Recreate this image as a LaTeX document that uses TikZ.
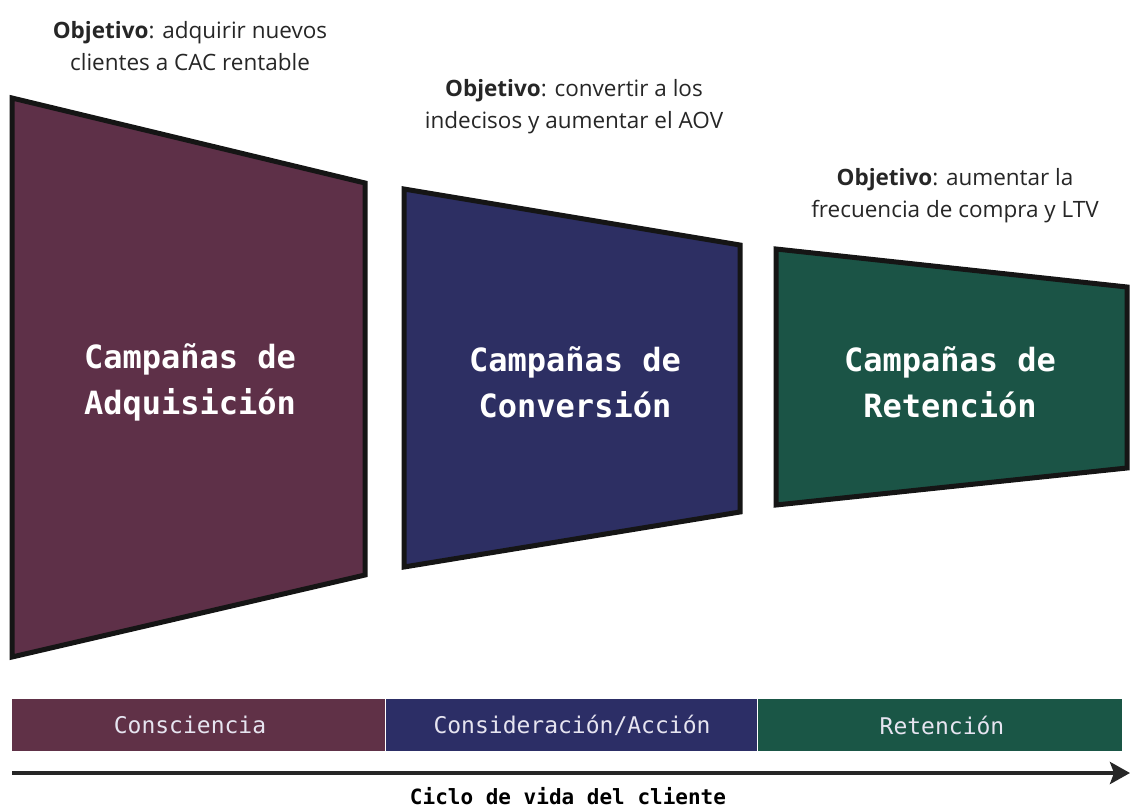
\documentclass[tikz,border=0pt]{standalone}
\usepackage{fontspec}
\setmainfont{Open Sans}
\newfontfamily\monofont{DejaVu Sans Mono}
\usetikzlibrary{arrows.meta}
\definecolor{cmaroon}{HTML}{5E3048}
\definecolor{cnavy}{HTML}{2D2F63}
\definecolor{cgreen}{HTML}{1B5446}
\definecolor{bmaroon}{HTML}{603147}
\definecolor{bnavy}{HTML}{2C2E66}
\definecolor{bgreen}{HTML}{1A5646}
\definecolor{ctext}{HTML}{262626}
\definecolor{barText}{HTML}{E6E4F0}
\definecolor{outline}{HTML}{151515}
\tikzset{
  trap/.style={draw=outline, line width=5pt, line join=miter},
  goal/.style={align=center, text=ctext, font=\fontsize{22.5}{32}\selectfont, inner sep=0pt},
  title/.style={align=center, text=white, font=\monofont\bfseries\fontsize{32}{46}\selectfont, inner sep=0pt},
  barlabel/.style={text=barText, font=\monofont\fontsize{23}{26}\selectfont, inner sep=0pt},
}
\begin{document}
\begin{tikzpicture}[x=1pt,y=-1pt]
\useasboundingbox (0,0) rectangle (1134,810);
% trapezoids
\draw[trap, fill=cmaroon] (12,98) -- (365,183) -- (365,575) -- (12,657) -- cycle;
\draw[trap, fill=cnavy] (404,189) -- (740,245) -- (740,512) -- (404,567) -- cycle;
\draw[trap, fill=cgreen] (776,249) -- (1127,287) -- (1127,468) -- (776,505) -- cycle;
% titles
\node[title] (t1) at (190,382) {Campañas de\\Adquisición};
\node[title] (t2) at (575,382) {Campañas de\\Conversión};
\node[title] (t3) at (950,382) {Campañas de\\Retención};
% goals
\node[goal] (g1) at (190,46) {\textbf{Objetivo}: adquirir nuevos\\clientes a CAC rentable};
\node[goal] (g2) at (574,107) {\textbf{Objetivo}: convertir a los\\indecisos y aumentar el AOV};
\node[goal] (g3) at (955,196) {\textbf{Objetivo}: aumentar la\\frecuencia de compra y LTV};
% bar
\fill[bmaroon] (12,699) rectangle (385,751);
\fill[bnavy] (385,699) rectangle (757,751);
\fill[bgreen] (757,699) rectangle (1122,751);
\draw[white, line width=0.8pt] (385,699) -- (385,751) (757,699) -- (757,751);
\node[barlabel] (b1) at (190,725) {Consciencia};
\node[barlabel] (b2) at (572,725) {Consideración/Acción};
\node[barlabel] (b3) at (942,725) {Retención};
% arrow
\coordinate (as) at (12,773);
\coordinate (ae) at (1130,773);
\draw[line width=4.5pt, draw=ctext, -{Stealth[length=20pt,width=22pt,inset=4pt]}] (as) -- (ae);
\node[text=black, font=\monofont\bfseries\fontsize{21}{24}\selectfont, inner sep=0pt] (cl) at (568,796) {Ciclo de vida del cliente};
\end{tikzpicture}
\end{document}
